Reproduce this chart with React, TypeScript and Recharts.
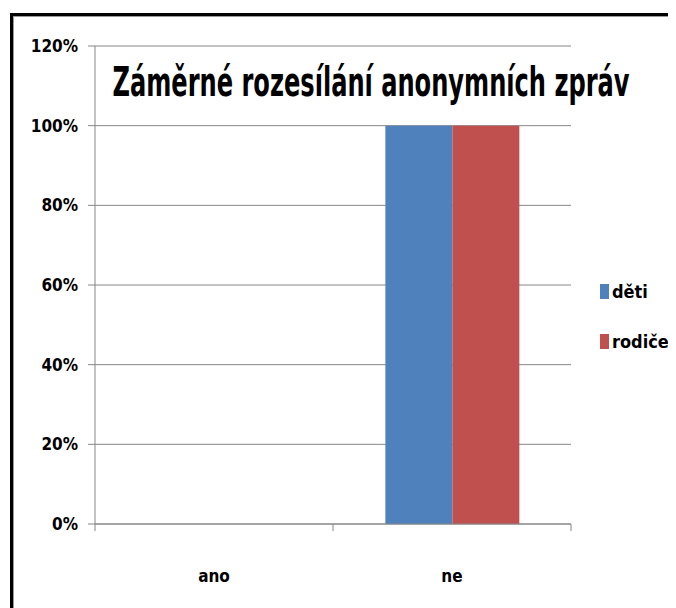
import React from 'react';
import { BarChart, Bar, XAxis, YAxis, CartesianGrid, Legend } from 'recharts';

const categories = ['ano', 'ne'];
const deti = [0, 1];
const rodice = [0, 1];
const yTicks = [0, 0.2, 0.4, 0.6, 0.8, 1, 1.2];

const data = categories.map((name, i) => ({ name, deti: deti[i], rodice: rodice[i] }));

const FONT = "'Liberation Sans Narrow', 'DejaVu Sans Condensed', 'DejaVu Sans', sans-serif";
const GRAY = '#868686';
const BAND = 238;

const XTick = (props: any) => {
  const { x, y, payload, index } = props;
  return (
    <g>
      <line x1={x - BAND / 2} y1={y} x2={x - BAND / 2} y2={y + 7} stroke={GRAY} />
      {index === categories.length - 1 && (
        <line x1={x + BAND / 2} y1={y} x2={x + BAND / 2} y2={y + 7} stroke={GRAY} />
      )}
      <text x={x} y={y + 58} textAnchor="middle" fontFamily={FONT} fontWeight="bold" fontSize={17} fill="#000">
        {payload.value}
      </text>
    </g>
  );
};

const LegendContent = () => {
  const items = [
    { label: 'děti', color: '#4F81BD' },
    { label: 'rodiče', color: '#C0504D' },
  ];
  return (
    <div>
      {items.map((it) => (
        <div key={it.label} style={{ height: 50, display: 'flex', alignItems: 'center', fontFamily: FONT, fontWeight: 'bold', fontSize: 18 }}>
          <span style={{ display: 'inline-block', width: 9, height: 15, background: it.color, marginRight: 3 }} />
          <span>{it.label}</span>
        </div>
      ))}
    </div>
  );
};

export default function App() {
  return (
    <div
      style={{
        position: 'relative',
        width: 661,
        height: 600,
        border: '3px solid #000',
        boxShadow: 'inset 1px 1px 0 #9a9a9a',
        marginTop: 5,
        marginLeft: 2,
      }}
    >
      <BarChart
        width={661}
        height={592}
        data={data}
        margin={{ top: 30, right: 22, left: 0, bottom: 24 }}
        barCategoryGap="22%"
        barGap={0}
      >
        <CartesianGrid vertical={false} stroke={GRAY} />
        <XAxis
          dataKey="name"
          height={60}
          tickSize={0}
          tickMargin={0}
          axisLine={{ stroke: GRAY }}
          tickLine={false}
          tick={<XTick />}
          interval={0}
        />
        <YAxis
          width={82}
          domain={[0, 1.2]}
          ticks={yTicks}
          tickFormatter={(v: number) => `${Math.round(v * 100)}%`}
          tickSize={7}
          tickMargin={10}
          axisLine={{ stroke: GRAY }}
          tickLine={{ stroke: GRAY }}
          tick={{ fontFamily: FONT, fontWeight: 'bold', fontSize: 17, fill: '#000' }}
        />
        <Legend
          layout="vertical"
          align="right"
          verticalAlign="middle"
          content={<LegendContent />}
          wrapperStyle={{ width: 81, left: 587, top: 250 }}
        />
        <Bar dataKey="deti" name="děti" fill="#4F81BD" isAnimationActive={false} />
        <Bar dataKey="rodice" name="rodiče" fill="#C0504D" isAnimationActive={false} />
      </BarChart>
      <svg width={661} height={140} style={{ position: 'absolute', left: 0, top: 0, pointerEvents: 'none' }}>
        <text
          transform="translate(358,80) scale(1,1.51)"
          x={0}
          y={0}
          textAnchor="middle"
          fontFamily={FONT}
          fontWeight="bold"
          fontSize={27}
          textLength={517}
          lengthAdjust="spacingAndGlyphs"
          fill="#000"
        >
          Záměrné rozesílání anonymních zpráv
        </text>
      </svg>
    </div>
  );
}
